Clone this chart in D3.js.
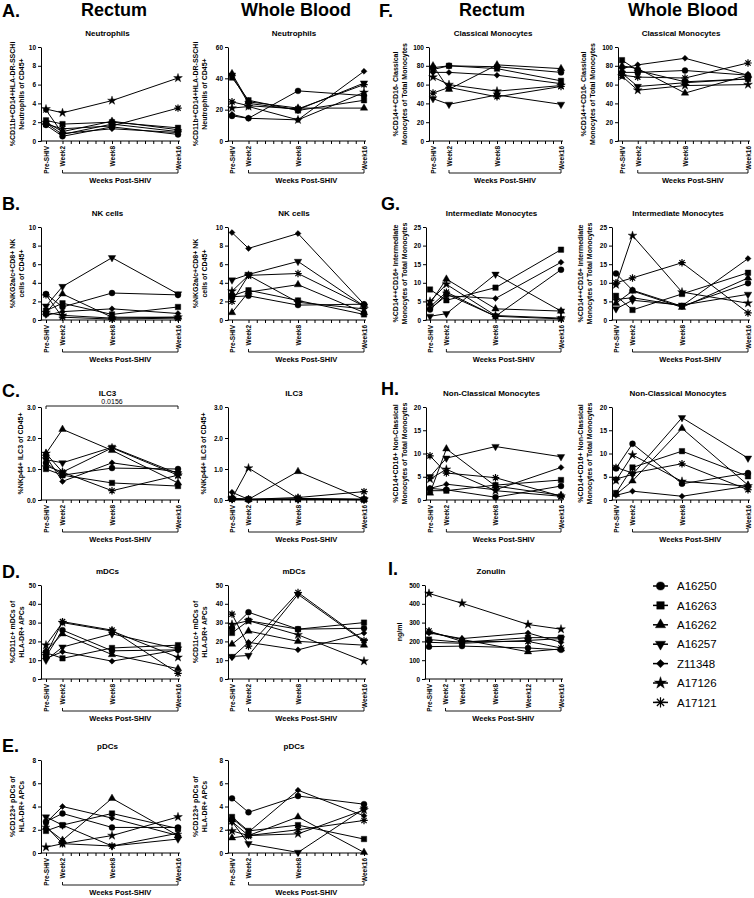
<!DOCTYPE html>
<html><head><meta charset="utf-8">
<script src="https://cdn.jsdelivr.net/npm/d3@7"></script>
<style>
body{margin:0;background:#fff}
svg{display:block}
text{font-family:"Liberation Sans",Arial,Helvetica,sans-serif;fill:#000}
</style>
</head><body>
<svg id="chart" width="754" height="898"></svg>
<script>
// ---------------- DATA ----------------
const animals = ["A16250","A16263","A16262","A16257","Z11348","A17126","A17121"];
const timeWeeks = [0, 2, 8, 16];
const timeLabels = ["Pre-SHIV","Week2","Week8","Week16"];
const zonulinWeeks = [0, 4, 12, 16];
const zonulinTickWeeks = [0, 2, 4, 8, 12, 16];
const zonulinTickLabels = ["Pre-SHIV","Week2","Week4","Week8","Week12","Week16"];

// y tick labels
const ticksNeutroRectum = [0,2,4,6,8,10];
const ticksNeutroBlood = [0,20,40,60];
const ticksNK = [0,2,4,6,8,10];
const ticksILC = [0,1,2,3];
const ticksMDC = [0,10,20,30,40,50];
const ticksPDC = [0,2,4,6,8];
const ticksClassical = [0,20,40,60,80,100];
const ticksIntermediate = [0,5,10,15,20,25];
const ticksNonClassical = [0,5,10,15,20];
const ticksZonulin = [0,100,200,300,400,500];

// values: one row per animal (order of `animals`), columns = Pre-SHIV, Week2, Week8, Week16
const neutrophilsRectum = [[1.7,0.5,1.5,0.7],[2.2,1.8,2.0,1.4],[2.0,1.0,2.1,1.2],[1.9,0.7,1.8,1.0],[3.3,0.8,1.3,0.9],[3.4,3.0,4.3,6.7],[1.8,1.3,1.6,3.5]];
const neutrophilsBlood = [[16,14.5,32,29],[40.5,26,19.5,26],[43,25,21,21],[42,24,20,37],[17,14.5,13.5,44.5],[21,22,13.5,31],[25,22.5,20.5,36]];
const nkRectum = [[2.8,1.4,2.9,2.7],[1.0,1.8,0.6,1.4],[0.8,2.8,0.3,0.3],[1.5,3.6,6.7,2.8],[0.5,0.9,1.2,0.7],[0.8,0.5,0.2,0.3],[2.7,0.3,0.1,0.2]];
const nkBlood = [[2.5,2.6,1.6,1.7],[2.6,3.2,2.1,0.6],[0.8,3.0,3.8,0.8],[4.3,4.9,6.3,1.5],[9.4,7.7,9.3,1.7],[3.1,4.8,1.9,1.2],[2.0,4.8,5.0,1.5]];
const ilc3Rectum = [[1.2,0.8,1.03,1.0],[1.0,0.8,0.55,0.45],[1.5,2.28,1.6,0.55],[1.3,1.2,1.7,0.85],[1.4,0.6,1.2,0.9],[1.5,0.9,1.68,0.8],[1.1,0.9,0.3,0.8]];
const ilc3Blood = [[0.03,0.02,0.03,0.02],[0.04,0.02,0.03,0.02],[0.05,0.02,0.92,0.02],[0.03,0.01,0.02,0.01],[0.25,0.02,0.03,0.02],[0.05,1.03,0.05,0.02],[0.05,0.02,0.08,0.27]];
const mdcRectum = [[12,26,15,15.5],[14,11,16.5,18],[15,24,13,5.5],[10,17,24,16],[11,14.5,9.5,15.5],[18,30,25.5,11.5],[13,30.5,26,3]];
const mdcBlood = [[27,35.5,26.5,27],[24.5,31,26.5,30],[18.5,25.5,20,18],[12,12.5,45,20],[11.5,19.5,15.5,24.5],[29,31,23.5,9.5],[34.5,17.5,46,20.5]];
const pdcRectum = [[2.7,3.4,2.2,2.2],[1.9,2.4,3.4,2.1],[2.2,1.1,4.7,1.5],[3.1,2.4,0.6,1.2],[2.6,4.0,3.0,1.5],[0.5,0.8,1.5,3.1],[2.3,0.8,0.6,1.7]];
const pdcBlood = [[4.7,3.5,4.9,4.2],[3.1,1.9,2.4,1.2],[1.3,1.5,3.1,0.05],[2.7,0.8,0.05,3.8],[3.0,1.8,5.4,3.2],[1.9,1.5,1.65,3.7],[2.7,1.5,2.0,2.8]];
const classicalRectum = [[78,80,79,73],[76,80,77,64],[80,55,81,77],[45,39,49,39],[73,73,70,61],[68,60,53,59],[51,57,47,58]];
const classicalBlood = [[73,73,75,70],[86,75,63,66],[80,77,51,70],[72,58,62,66],[77,81,88,70],[69,54,59,60],[70,68,67,83]];
const intermediateRectum = [[2.8,7,1.0,13.5],[8.2,5.3,8.7,18.9],[4.5,11,3.0,2.4],[1.0,1.7,12.3,2.4],[3.0,6.5,5.8,15.5],[5,9.6,1.2,0.5],[3.5,7.5,1.0,0.3]];
const intermediateBlood = [[12.5,8.0,3.7,9.9],[6.5,2.7,7.0,12.7],[4.5,7.8,3.4,11.3],[3.0,5.3,4.0,6.9],[5.5,6.0,3.8,16.5],[9.5,22.7,7.5,4.5],[10,11.3,15.4,1.9]];
const nonClassicalRectum = [[2.5,2.2,0.6,3.0],[2.0,2.0,3.2,4.3],[1.5,11,3.0,1.0],[5,9,11.5,9.3],[2.5,3.4,2.2,7],[4.5,6.6,2.0,0.8],[9.5,5.8,4.8,0.8]];
const nonClassicalBlood = [[6.8,12.1,3.5,5.8],[1.5,7.0,10.5,5.1],[1.2,4.1,15.4,3.2],[4.5,5.5,17.7,9.0],[1.0,1.9,0.8,3.0],[4.2,9.7,4.0,3.0],[7.0,5.8,7.8,2.2]];
// Zonulin: Pre-SHIV, Week4, Week12, Week16
const zonulin = [[172,175,165,155],[210,195,220,220],[250,210,145,160],[195,190,205,215],[245,215,245,195],[455,403,290,265],[255,200,200,165]];

// ---------------- LAYOUT ----------------
const svg = d3.select("#chart");
const cols = [
  {axis:41,x0:46,x16:178,lab:19},
  {axis:228,x0:232,x16:364,lab:23},
  {axis:426,x0:430,x16:561,lab:21},
  {axis:612,x0:616,x16:748,lab:22}
];
const rows = [{top:47,bottom:141},{top:227,bottom:320},{top:407,bottom:500},{top:585,bottom:679},{top:760,bottom:853}];

// marker symbols (one per animal)
const asterisk = {draw(ctx,size){const r=Math.sqrt(size)*0.62;for(let k=0;k<4;k++){const a=k*Math.PI/4;ctx.moveTo(-r*Math.cos(a),-r*Math.sin(a));ctx.lineTo(r*Math.cos(a),r*Math.sin(a));}}};
const markers = [
  {type:d3.symbolCircle,size:28,rot:0,fill:true},
  {type:d3.symbolSquare,size:30,rot:0,fill:true},
  {type:d3.symbolTriangle,size:24,rot:0,fill:true},
  {type:d3.symbolTriangle,size:24,rot:180,fill:true},
  {type:d3.symbolSquare,size:18,rot:45,fill:true},
  {type:d3.symbolStar,size:24,rot:0,fill:true},
  {type:asterisk,size:36,rot:0,fill:false}
];
function drawMarker(g,k,cx,cy,scale=1){
  const m=markers[k];
  g.append("path").attr("d",d3.symbol(m.type,m.size*scale)())
   .attr("transform",`translate(${cx},${cy}) rotate(${m.rot})`)
   .attr("fill",m.fill?"#000":"none").attr("stroke","#000")
   .attr("stroke-width",m.fill?0.4:1.2);
}

const panels = [
  {col:0,row:0,title:"Neutrophils",ylab:["%CD11b+CD14+HLA-DR-SSCHi","Neutrophils of CD45+"],ticks:ticksNeutroRectum,data:neutrophilsRectum},
  {col:1,row:0,title:"Neutrophils",ylab:["%CD11b+CD14+HLA-DR-SSCHi","Neutrophils of CD45+"],ticks:ticksNeutroBlood,data:neutrophilsBlood},
  {col:0,row:1,title:"NK cells",ylab:["%NKG2a/c+CD8+ NK","cells of CD45+"],ticks:ticksNK,data:nkRectum},
  {col:1,row:1,title:"NK cells",ylab:["%NKG2a/c+CD8+ NK","cells of CD45+"],ticks:ticksNK,data:nkBlood},
  {col:0,row:2,title:"ILC3",ylab:["%NKp44+ ILC3 of CD45+"],ticks:ticksILC,data:ilc3Rectum,sig:"0.0156"},
  {col:1,row:2,title:"ILC3",ylab:["%NKp44+ ILC3 of CD45+"],ticks:ticksILC,data:ilc3Blood},
  {col:0,row:3,title:"mDCs",ylab:["%CD11c+ mDCs of","HLA-DR+ APCs"],ticks:ticksMDC,data:mdcRectum},
  {col:1,row:3,title:"mDCs",ylab:["%CD11c+ mDCs of","HLA-DR+ APCs"],ticks:ticksMDC,data:mdcBlood},
  {col:0,row:4,title:"pDCs",ylab:["%CD123+ pDCs of","HLA-DR+ APCs"],ticks:ticksPDC,data:pdcRectum},
  {col:1,row:4,title:"pDCs",ylab:["%CD123+ pDCs of","HLA-DR+ APCs"],ticks:ticksPDC,data:pdcBlood},
  {col:2,row:0,title:"Classical Monocytes",ylab:["%CD14++CD16- Classical","Monocytes of Total Monocytes"],ticks:ticksClassical,data:classicalRectum,shift:3},
  {col:3,row:0,title:"Classical Monocytes",ylab:["%CD14++CD16- Classical","Monocytes of Total Monocytes"],ticks:ticksClassical,data:classicalBlood,shift:6},
  {col:2,row:1,title:"Intermediate Monocytes",ylab:["%CD14++CD16+ Intermediate","Monocytes of Total Monocytes"],ticks:ticksIntermediate,data:intermediateRectum},
  {col:3,row:1,title:"Intermediate Monocytes",ylab:["%CD14++CD16+ Intermediate","Monocytes of Total Monocytes"],ticks:ticksIntermediate,data:intermediateBlood},
  {col:2,row:2,title:"Non-Classical Monocytes",ylab:["%CD14+CD16+ Non-Classical","Monocytes of Total Monocytes"],ticks:ticksNonClassical,data:nonClassicalRectum},
  {col:3,row:2,title:"Non-Classical Monocytes",ylab:["%CD14+CD16+ Non-Classical","Monocytes of Total Monocytes"],ticks:ticksNonClassical,data:nonClassicalBlood},
  {col:2,row:3,title:"Zonulin",ylab:["ng/ml"],ticks:ticksZonulin,data:zonulin,weeks:zonulinWeeks,tickWeeks:zonulinTickWeeks,tickLabels:zonulinTickLabels,shift:-1}
];

function drawPanel(p){
  const base=cols[p.col], r=rows[p.row];
  const s=p.shift||0;
  const c={axis:base.axis+s,x0:base.x0+s,x16:base.x16,lab:base.lab};
  const weeks=p.weeks||timeWeeks;
  const tickWeeks=p.tickWeeks||timeWeeks;
  const tickLabels=p.tickLabels||timeLabels;
  const yMax=p.ticks[p.ticks.length-1];
  const x=d3.scaleLinear().domain([0,16]).range([c.x0,c.x16]);
  const y=d3.scaleLinear().domain([0,yMax]).range([r.bottom,r.top]);
  const g=svg.append("g");

  // y axis
  const ya=g.append("g").attr("transform",`translate(${c.axis},0)`)
    .call(d3.axisLeft(y).tickValues(p.ticks).tickSize(3).tickSizeOuter(0).tickPadding(2));
  ya.selectAll("text").attr("font-size",6.5).attr("font-weight","bold").style("font-family","'Liberation Sans',Arial,sans-serif");
  ya.select(".domain").attr("stroke","#000").attr("stroke-width",1);

  // x axis (minor weekly ticks + labelled ticks)
  const minor=d3.range(2,17);
  const allTicks=[0].concat(minor);
  const labelMap=new Map(tickWeeks.map((w,i)=>[w,tickLabels[i]]));
  const xa=g.append("g").attr("transform",`translate(0,${r.bottom})`)
    .call(d3.axisBottom(x).tickValues(allTicks).tickSize(3).tickSizeOuter(0).tickFormat(w=>labelMap.get(w)||""));
  xa.select(".domain").remove();
  xa.selectAll("text").attr("transform","rotate(-90)").attr("text-anchor","end")
    .attr("x",-5).attr("y",0).attr("dy","0.35em")
    .attr("font-size",6.5).attr("font-weight","bold").style("font-family","'Liberation Sans',Arial,sans-serif");
  g.append("line").attr("x1",c.axis-0.5).attr("x2",c.x16+2).attr("y1",r.bottom).attr("y2",r.bottom)
    .attr("stroke","#000").attr("stroke-width",1);

  // "Weeks Post-SHIV" bracket
  const by=r.bottom+32;
  g.append("path").attr("d",`M${x(2)},${by-3}V${by}H${x(16)}V${by-3}`).attr("fill","none").attr("stroke","#000").attr("stroke-width",0.9);
  g.append("text").attr("x",(x(2)+x(16))/2).attr("y",r.bottom+42).attr("text-anchor","middle")
    .attr("font-size",7.5).attr("font-weight","bold").text("Weeks Post-SHIV");

  // title
  g.append("text").attr("x",(c.axis+c.x16)/2-2).attr("y",r.top-11).attr("text-anchor","middle")
    .attr("font-size",8).attr("font-weight","bold").text(p.title);

  // y label
  const digits=String(yMax).length;
  const l2=c.axis-c.lab-Math.max(0,digits-2)*3;
  const lines=p.ylab;
  const yc=(r.top+r.bottom)/2;
  lines.forEach((t,i)=>{
    const xx = lines.length===1 ? l2-1 : (i===0 ? l2-9.5 : l2);
    g.append("text").attr("transform",`translate(${xx},${yc}) rotate(-90)`).attr("text-anchor","middle")
      .attr("dy","0.35em").attr("font-size",7).attr("font-weight","bold").text(t);
  });

  // significance bracket
  if(p.sig){
    const sy=r.top-1;
    g.append("path").attr("d",`M${x(0)},${sy+3}V${sy}H${x(16)}V${sy+3}`).attr("fill","none").attr("stroke","#000").attr("stroke-width",0.9);
    g.append("text").attr("x",(x(0)+x(16))/2).attr("y",sy-2.5).attr("text-anchor","middle").attr("font-size",7).text(p.sig);
  }

  // lines
  const line=d3.line().x((d,i)=>x(weeks[i])).y(d=>y(d));
  p.data.forEach(vals=>{
    g.append("path").attr("d",line(vals)).attr("fill","none").attr("stroke","#000").attr("stroke-width",1);
  });
  // markers
  p.data.forEach((vals,k)=>{
    vals.forEach((v,i)=>drawMarker(g,k,x(weeks[i]),y(v)));
  });
}
panels.forEach(drawPanel);

// headers
[["Rectum",114],["Whole Blood",296],["Rectum",492],["Whole Blood",683]].forEach(([t,cx])=>{
  svg.append("text").attr("x",cx).attr("y",16).attr("text-anchor","middle").attr("font-size",18).attr("font-weight","bold").text(t);
});
// panel letters
[["A.",2,17],["B.",2,210],["C.",2,397],["D.",2,578],["E.",2,752],["F.",379,17],["G.",381,210],["H.",381,395],["I.",388,575]].forEach(([t,xx,yy])=>{
  svg.append("text").attr("x",xx).attr("y",yy).attr("font-size",18).attr("font-weight","bold").text(t);
});

// legend
const lg=svg.append("g");
animals.forEach((a,k)=>{
  const yy=586+k*19.4;
  lg.append("line").attr("x1",653).attr("x2",668).attr("y1",yy).attr("y2",yy).attr("stroke","#000").attr("stroke-width",1.5);
  drawMarker(lg,k,660.5,yy,1.9);
  lg.append("text").attr("x",677).attr("y",yy).attr("dy","0.36em").attr("font-size",11.5).text(a);
});
</script>
</body></html>
